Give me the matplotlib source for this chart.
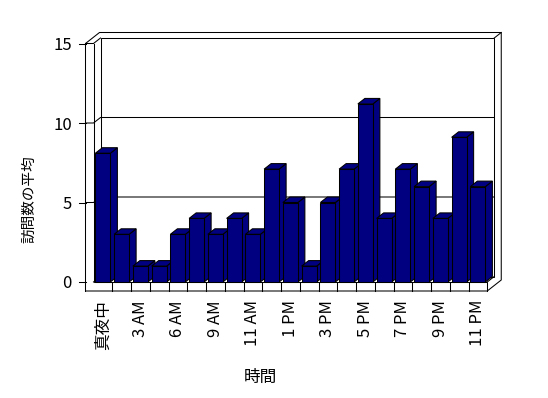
import matplotlib
matplotlib.use("Agg")
import matplotlib.pyplot as plt

# ---- data ----
categories = ["真夜中", "1 AM", "3 AM", "5 AM", "6 AM", "8 AM", "9 AM", "10 AM",
              "11 AM", "正午", "1 PM", "2 PM", "3 PM", "4 PM", "5 PM", "6 PM",
              "7 PM", "8 PM", "9 PM", "10 PM", "11 PM"]
values = [8.1, 3, 1, 1, 3, 4, 3, 4, 3, 7.1, 5, 1, 5, 7.1, 11.2, 4, 7.1, 6, 4, 9.1, 6]
yticks = [0, 5, 10, 15]
ylabel = "訪問数の平均"
xlabel = "時間"

plt.rcParams['font.family'] = ['Noto Sans CJK JP', 'DejaVu Sans']

W, H = 548, 398
fig = plt.figure(figsize=(W / 100, H / 100), dpi=100)
fig.patch.set_facecolor('white')
AX_L, AX_B, AX_W, AX_H = 93.5, 282, 393.75, 238.5
ax = fig.add_axes([AX_L / W, (H - AX_B) / H, AX_W / W, AX_H / H])
n = len(values)
X0, X1 = -0.5, n - 0.5
YMAX = yticks[-1]
ax.set_xlim(X0, X1)
ax.set_ylim(0, YMAX)
ax.set_facecolor('none')
for s in ax.spines.values():
    s.set_visible(False)

px_x = (X1 - X0) / AX_W
px_y = YMAX / AX_H
dx, dy = 7 * px_x, 5.5 * px_y      # depth offset
tw = 8 * px_x                       # left wall thickness
tf = 9 * px_y                       # floor thickness
tick = 7 * px_x
lw = 0.75
navy = '#000080'
kw = dict(color='black', lw=lw, clip_on=False, solid_capstyle='projecting',
          solid_joinstyle='miter')


def line(xs, ys, z=1):
    ax.plot(xs, ys, zorder=z, **kw)


# outer frame
line([X0 - tw, X0 - tw, X0 - tw + 2 * dx, X1 + 2 * dx, X1 + 2 * dx, X1, X0 - tw],
     [-tf, YMAX, YMAX + 2 * dy, YMAX + 2 * dy, -tf + 2 * dy, -tf, -tf])
# back wall inner
line([X0 + dx, X0 + dx, X1 + dx, X1 + dx, X0 + dx],
     [dy, YMAX + dy, YMAX + dy, dy, dy])
# left wall front inner edge and floor top front edge
line([X0, X0, X1, X1], [YMAX, 0, 0, -tf])
line([X0 - tw, X0, X0 + dx], [YMAX, YMAX, YMAX + dy])
line([X0, X0 + dx], [0, dy])
line([X1 + dx, X1 + 2 * dx], [YMAX + dy, YMAX + 2 * dy])
line([X1, X1 + dx], [0, dy])
# gridlines
for g in yticks[1:-1]:
    line([X0 - tw, X0, X0 + dx, X1 + dx], [g, g, g + dy, g + dy])
# y tick marks
for g in yticks:
    line([X0 - tw - tick, X0 - tw], [g, g])
# floor dividers
for k in range(1, n):
    line([X0 + k, X0 + k], [0, -tf])

# bars
bw = 0.8
for i, v in enumerate(values):
    z = 3 + i * 0.1
    ax.fill([i + bw / 2, i + bw / 2 + dx, i + bw / 2 + dx, i + bw / 2],
            [0, dy, v + dy, v], facecolor=navy, edgecolor='black', lw=lw,
            zorder=z, clip_on=False)
    ax.fill([i - bw / 2, i + bw / 2, i + bw / 2 + dx, i - bw / 2 + dx],
            [v, v, v + dy, v + dy], facecolor=navy, edgecolor='black', lw=lw,
            zorder=z + 0.01, clip_on=False)
    ax.bar(i, v, width=bw, color=navy, edgecolor='black', lw=lw,
           zorder=z + 0.02, clip_on=False)

# ticks
ax.set_xticks(range(0, n, 2))
ax.set_xticklabels(categories[::2], rotation=90, fontsize=12)
ax.tick_params(axis='x', length=0, pad=13)
ax.set_yticks(yticks)
ax.set_yticklabels([str(t) for t in yticks], fontsize=12)
ax.tick_params(axis='y', length=0, pad=15.5)

fig.text(29 / W, 1 - 199 / H, ylabel, rotation=90, ha='center', va='center',
         fontsize=10.5)
fig.text(260 / W, 1 - 377 / H, xlabel, ha='center', va='center', fontsize=12)

fig.savefig('out.png', dpi=100, facecolor='white')
